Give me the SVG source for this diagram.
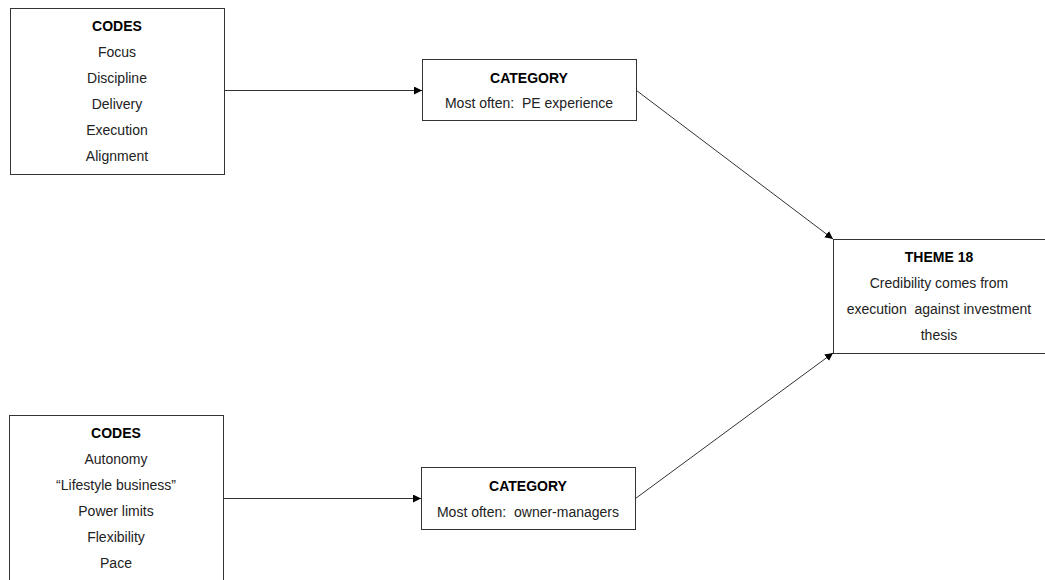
<svg xmlns="http://www.w3.org/2000/svg" width="1045" height="580" viewBox="0 0 1045 580">
  <style>
    .box { fill: #ffffff; stroke: #333333; stroke-width: 1; }
    .t { font-family: "Liberation Sans", Arial, sans-serif; font-size: 14px; fill: #222222; text-anchor: middle; }
    .b { font-weight: bold; fill: #000000; }
    .edge { stroke: #333333; stroke-width: 1; fill: none; marker-end: url(#arrow); }
  </style>
  <defs>
    <marker id="arrow" viewBox="0 0 10 10" refX="10" refY="5" markerWidth="8" markerHeight="8" markerUnits="userSpaceOnUse" orient="auto">
      <path d="M0,0 L10,5 L0,10 z" fill="#000000"/>
    </marker>
  </defs>

  <rect width="1045" height="580" fill="#ffffff"/>

  <g id="connectors">
    <line class="edge" x1="224.5" y1="90.5" x2="422" y2="90.5"/>
    <line class="edge" x1="636.5" y1="90.5" x2="833" y2="239"/>
    <line class="edge" x1="223.5" y1="498.5" x2="421" y2="498.5"/>
    <line class="edge" x1="635.5" y1="498.5" x2="833" y2="353"/>
  </g>

  <g id="codes-1">
    <rect class="box" x="10.5" y="8.5" width="214" height="166"/>
    <text class="t b" x="117" y="31">CODES</text>
    <text class="t" x="117" y="57">Focus</text>
    <text class="t" x="117" y="83">Discipline</text>
    <text class="t" x="117" y="109">Delivery</text>
    <text class="t" x="117" y="135">Execution</text>
    <text class="t" x="117" y="161">Alignment</text>
  </g>

  <g id="category-1">
    <rect class="box" x="422.5" y="59.5" width="214" height="61"/>
    <text class="t b" x="529" y="83">CATEGORY</text>
    <text class="t" x="529" y="108" xml:space="preserve">Most often:  PE experience</text>
  </g>

  <g id="theme-18">
    <rect class="box" x="833.5" y="239.5" width="220" height="114"/>
    <text class="t b" x="939" y="262">THEME 18</text>
    <text class="t" x="939" y="288">Credibility comes from</text>
    <text class="t" x="939" y="314" xml:space="preserve">execution  against investment</text>
    <text class="t" x="939" y="340">thesis</text>
  </g>

  <g id="codes-2">
    <rect class="box" x="9.5" y="415.5" width="214" height="180"/>
    <text class="t b" x="116" y="438">CODES</text>
    <text class="t" x="116" y="464">Autonomy</text>
    <text class="t" x="116" y="490">“Lifestyle business”</text>
    <text class="t" x="116" y="516">Power limits</text>
    <text class="t" x="116" y="542">Flexibility</text>
    <text class="t" x="116" y="568">Pace</text>
  </g>

  <g id="category-2">
    <rect class="box" x="421.5" y="467.5" width="214" height="62"/>
    <text class="t b" x="528" y="491">CATEGORY</text>
    <text class="t" x="528" y="517" xml:space="preserve">Most often:  owner-managers</text>
  </g>
</svg>
